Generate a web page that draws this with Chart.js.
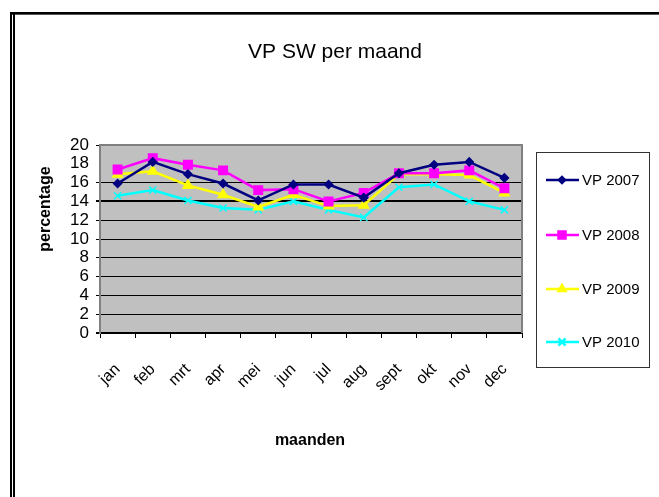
<!DOCTYPE html>
<html>
<head>
<meta charset="utf-8">
<script src="https://cdn.jsdelivr.net/npm/chart.js@4"></script>
<style>
  html, body { margin: 0; padding: 0; background: #fff; }
  canvas { display: block; }
</style>
</head>
<body>
<canvas id="vpChart" width="659" height="497"></canvas>
<script>
// VP SW per maand — lijngrafiek per jaar

const maanden = ['jan', 'feb', 'mrt', 'apr', 'mei', 'jun', 'jul', 'aug', 'sept', 'okt', 'nov', 'dec'];
const jaren   = ['VP 2007', 'VP 2008', 'VP 2009', 'VP 2010'];

const vp2007 = [15.9, 18.2, 16.9, 15.9, 14.1, 15.8, 15.8, 14.4, 17.0, 17.9, 18.2, 16.5];
const vp2008 = [17.4, 18.6, 17.9, 17.3, 15.2, 15.3, 14.0, 14.9, 17.0, 17.0, 17.3, 15.4];
const vp2009 = [16.9, 17.2, 15.7, 14.7, 13.4, 14.7, 13.5, 13.6, 16.9, 16.9, 16.8, 14.9];
const vp2010 = [14.6, 15.2, 14.1, 13.3, 13.1, 14.0, 13.1, 12.3, 15.5, 15.8, 14.0, 13.1];

const yTicks = [0, 2, 4, 6, 8, 10, 12, 14, 16, 18, 20];

const SANS = '"Liberation Sans", Arial, sans-serif';

// achtergrond, kaders, titels en legenda
const decor = {
  id: 'decor',
  beforeDraw(chart) {
    const { ctx, chartArea: a } = chart;
    ctx.save();
    ctx.fillStyle = '#fff';
    ctx.fillRect(0, 0, chart.width, chart.height);
    ctx.fillStyle = '#c0c0c0';
    ctx.fillRect(a.left, a.top, a.right - a.left, a.bottom - a.top);
    ctx.restore();
  },
  beforeDatasetsDraw(chart) {
    const { ctx, chartArea: a } = chart;
    ctx.save();
    ctx.strokeStyle = '#808080';
    ctx.lineWidth = 2;
    ctx.beginPath();
    ctx.moveTo(a.left, a.top);
    ctx.lineTo(a.right, a.top);
    ctx.lineTo(a.right, a.bottom);
    ctx.stroke();
    ctx.restore();
  },
  afterDraw(chart) {
    const { ctx } = chart;
    ctx.save();

    // buitenkader
    ctx.fillStyle = '#000';
    ctx.fillRect(10, 12, chart.width - 10, 2);
    ctx.fillStyle = '#555';
    ctx.fillRect(12, 14, chart.width - 12, 1);
    ctx.fillStyle = '#000';
    ctx.fillRect(10, 12, 2, chart.height - 12);
    ctx.fillRect(13, 14, 2, chart.height - 14);

    // titels
    ctx.fillStyle = '#000';
    ctx.textAlign = 'center';
    ctx.textBaseline = 'middle';
    ctx.font = '21px ' + SANS;
    ctx.fillText('VP SW per maand', 335, 52);

    ctx.font = 'bold 16px ' + SANS;
    ctx.fillText('maanden', 310, 441);

    ctx.save();
    ctx.translate(46, 209);
    ctx.rotate(-Math.PI / 2);
    ctx.fillText('percentage', 0, 0);
    ctx.restore();

    // legenda
    ctx.strokeStyle = '#333';
    ctx.lineWidth = 1;
    ctx.strokeRect(536.5, 152.5, 113, 215);
    const rows = [180, 235, 289, 342];
    chart.data.datasets.forEach((ds, i) => {
      const y = rows[i];
      ctx.strokeStyle = ds.borderColor;
      ctx.fillStyle = ds.borderColor;
      ctx.lineWidth = ds.borderWidth;
      ctx.beginPath();
      ctx.moveTo(546, y);
      ctx.lineTo(579, y);
      ctx.stroke();
      Chart.helpers.drawPoint(ctx, {
        pointStyle: ds.pointStyle,
        radius: ds.legendRadius,
        borderWidth: 1
      }, 562, y);
      ctx.fillStyle = '#000';
      ctx.textAlign = 'left';
      ctx.font = '15px ' + SANS;
      ctx.fillText(ds.label, 582, y + 1);
    });
    ctx.restore();
  }
};

function lijn(label, data, kleur, stijl, r, lr) {
  return {
    label,
    data,
    borderColor: kleur,
    backgroundColor: kleur,
    pointBackgroundColor: kleur,
    pointBorderColor: kleur,
    borderWidth: 2.5,
    pointStyle: stijl,
    pointRadius: r,
    pointBorderWidth: 1.5,
    legendRadius: lr,
    tension: 0,
    fill: false
  };
}

new Chart(document.getElementById('vpChart'), {
  type: 'line',
  data: {
    labels: maanden,
    datasets: [
      lijn(jaren[0], vp2007, '#000080', 'rectRot', 4, 3),
      lijn(jaren[1], vp2008, '#ff00ff', 'rect', 6, 5),
      lijn(jaren[2], vp2009, '#ffff00', 'triangle', 5.5, 4),
      lijn(jaren[3], vp2010, '#00ffff', 'crossRot', 5, 5)
    ]
  },
  options: {
    responsive: false,
    devicePixelRatio: 1,
    animation: false,
    layout: { padding: { left: 0, top: 145, right: 137, bottom: 0 } },
    plugins: {
      legend: { display: false },
      title: { display: false },
      tooltip: { enabled: false }
    },
    scales: {
      x: {
        type: 'category',
        offset: true,
        afterFit: s => { s.height = 164; },
        border: { color: '#000', width: 2 },
        grid: {
          offset: true,
          drawOnChartArea: false,
          drawTicks: true,
          tickLength: 5,
          color: '#000'
        },
        ticks: {
          color: '#000',
          font: { family: SANS, size: 16 },
          minRotation: 45,
          maxRotation: 45,
          padding: 22
        }
      },
      y: {
        min: 0,
        max: 20,
        afterFit: s => { s.width = 100; },
        afterBuildTicks: s => { s.ticks = yTicks.map(v => ({ value: v })); },
        border: { color: '#808080', width: 2 },
        grid: {
          tickLength: 4,
          color: c => c.tick.value === 18 ? 'rgba(0,0,0,0)' : (c.tick.value === 20 ? '#808080' : '#000'),
          tickColor: c => c.tick.value === 18 ? 'rgba(0,0,0,0)' : '#000',
          lineWidth: c => (c.tick.value === 14 || c.tick.value === 0) ? 2 : 1
        },
        ticks: {
          color: '#000',
          font: { family: SANS, size: 17 },
          padding: 7,
          autoSkip: false
        }
      }
    }
  },
  plugins: [decor]
});
</script>
</body>
</html>
